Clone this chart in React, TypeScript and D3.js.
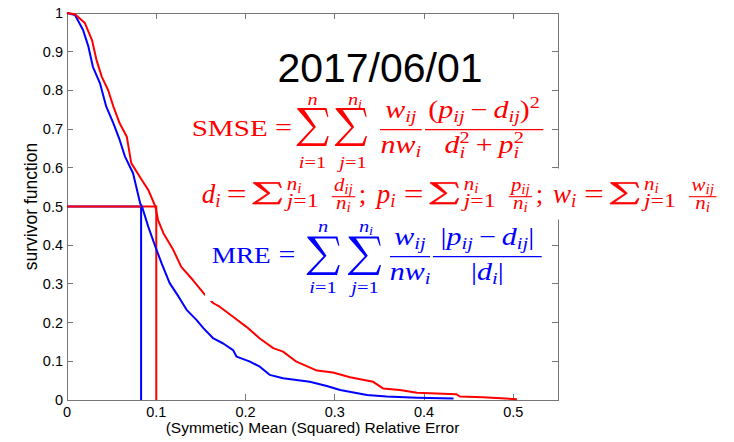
import React from 'react';
import * as d3 from 'd3';

// survivor functions
const mreX = [0, 0.009, 0.018, 0.024, 0.029, 0.037, 0.044, 0.052, 0.059, 0.065, 0.074, 0.082, 0.084, 0.091, 0.099, 0.106, 0.115, 0.125, 0.134, 0.145, 0.153, 0.164, 0.175, 0.186, 0.19, 0.205, 0.216, 0.227, 0.242, 0.272, 0.291, 0.306, 0.336, 0.358, 0.392, 0.433];
const mreY = [1, 0.995, 0.956, 0.913, 0.861, 0.818, 0.758, 0.715, 0.672, 0.629, 0.586, 0.508, 0.5, 0.448, 0.396, 0.353, 0.302, 0.267, 0.233, 0.207, 0.185, 0.159, 0.146, 0.129, 0.112, 0.099, 0.086, 0.065, 0.056, 0.047, 0.036, 0.026, 0.013, 0.009, 0.006, 0.004];
const smseX = [0, 0.009, 0.02, 0.028, 0.033, 0.039, 0.046, 0.052, 0.059, 0.067, 0.072, 0.084, 0.091, 0.099, 0.102, 0.108, 0.119, 0.128, 0.141, 0.153, 0.164, 0.171, 0.186, 0.201, 0.216, 0.231, 0.242, 0.257, 0.28, 0.298, 0.317, 0.343, 0.354, 0.373, 0.392, 0.414, 0.436, 0.44, 0.466, 0.504];
const smseY = [1, 0.997, 0.974, 0.93, 0.879, 0.835, 0.801, 0.758, 0.715, 0.68, 0.612, 0.568, 0.543, 0.5, 0.465, 0.431, 0.388, 0.344, 0.31, 0.276, 0.25, 0.241, 0.215, 0.189, 0.159, 0.134, 0.125, 0.099, 0.076, 0.071, 0.059, 0.047, 0.03, 0.026, 0.019, 0.017, 0.015, 0.009, 0.007, 0.002];

// medians (x where survivor = 0.5)
const medianMRE = 0.083;
const medianSMSE = 0.1;

const xTicks = [0, 0.1, 0.2, 0.3, 0.4, 0.5];
const yTicks = [0, 0.1, 0.2, 0.3, 0.4, 0.5, 0.6, 0.7, 0.8, 0.9, 1];

const title = '2017/06/01';
const xLabel = '(Symmetic) Mean (Squared) Relative Error';
const yLabel = 'survivor function';

const RED = '#ff0000';
const BLUE = '#0000ff';
const SERIF = "'Liberation Serif', 'DejaVu Serif', serif";
const SANS = "'Liberation Sans', Arial, sans-serif";
const SX = 1.2; // latex text in the figure is a bit wide

// Sigma glyph as polygon, in unit box
const sigmaPts: [number, number][] = [
  [0.02, 0], [0.93, 0], [0.99, 0.24], [0.96, 0.24], [0.88, 0.05], [0.24, 0.05],
  [0.6, 0.5], [0.14, 0.93], [0.86, 0.93], [0.96, 0.74], [1, 0.74], [0.92, 1],
  [0, 1], [0, 0.97], [0.51, 0.51], [0.02, 0.03],
];

function Sigma({ x, y, w, h, color, bold = 0 }: { x: number; y: number; w: number; h: number; color: string; bold?: number }) {
  const d = 'M' + sigmaPts.map(([u, v]) => `${x + u * w},${y + v * h}`).join('L') + 'Z';
  return <path d={d} fill={color} stroke={bold ? color : 'none'} strokeWidth={bold} strokeLinejoin="round" />;
}

function It({ children, ...rest }: any) {
  return <tspan fontStyle="italic" {...rest}>{children}</tspan>;
}

// text placed at x,y and stretched horizontally
function T({ x, y, size, anchor = 'start', sx = SX, children }: any) {
  return (
    <text transform={`translate(${x},${y}) scale(${sx},1)`} fontSize={size} textAnchor={anchor}>
      {children}
    </text>
  );
}

function Frac({ x1, x2, bar, num, den, color }: any) {
  const cx = (x1 + x2) / 2;
  return (
    <g>
      <line x1={x1} x2={x2} y1={bar} y2={bar} stroke={color} strokeWidth={1.3} />
      <T x={cx} y={bar - 12} size={25} anchor="middle">{num}</T>
      <T x={cx} y={bar + 23} size={25} anchor="middle">{den}</T>
    </g>
  );
}

function InlineGroup({ x0, v, e, last }: { x0: number; v: string; e: number; last?: boolean }) {
  const fw = v === 'w' ? 4 : 0;
  return (
    <g fill={RED}>
      <T x={x0} y={202.7} size={27} sx={1}><It>{v}</It><It fontSize={19} dy={4.5}>i</It></T>
      <T x={x0 + 25 + e} y={202.7} size={27} sx={1.3}>=</T>
      <Sigma x={x0 + 51 + e} y={182.5} w={29} h={21.5} color={RED} bold={0.7} />
      <T x={x0 + 85 + e} y={190} size={19} sx={1.1}><It>n</It><It fontSize={14} dy={3}>i</It></T>
      <T x={x0 + 85 + e} y={206.5} size={19} sx={1.25}><It>j</It><tspan>=1</tspan></T>
      <line x1={x0 + 130 + e} x2={x0 + 153.5 + e + fw} y1={196.7} y2={196.7} stroke={RED} strokeWidth={1.1} />
      <T x={x0 + 141.7 + e + fw / 2} y={190.5} size={19} sx={1.1} anchor="middle"><It>{v}</It><It fontSize={14} dy={3}>ij</It></T>
      <T x={x0 + 141.7 + e + fw / 2} y={208.5} size={19} sx={1.1} anchor="middle"><It>n</It><It fontSize={14} dy={3}>i</It></T>
      {!last && <T x={x0 + 157 + e + fw} y={202.7} size={27} sx={1}>;</T>}
    </g>
  );
}

export default function App() {
  const W = 734, H = 442;
  const x = d3.scaleLinear().domain([0, 0.55]).range([67, 558]);
  const y = d3.scaleLinear().domain([0, 1]).range([400, 13]);

  const mkPath = (xs: number[], ys: number[]) =>
    d3.line<number>().x((d) => x(d)).y((_, i) => y(ys[i]))(xs) as string;

  const [x0, x1] = x.range();
  const [y0, y1] = y.range();
  const tl = 6;

  const sumW = 32, sumH = 38;

  return (
    <svg width={W} height={H} style={{ position: 'absolute', left: 0, top: 0, background: '#fff' }} fontFamily={SERIF}>
      {/* box and ticks */}
      <g stroke="#777" strokeWidth={1} fill="none" shapeRendering="crispEdges">
        <rect x={x0} y={y1} width={x1 - x0} height={y0 - y1} />
        {xTicks.map((t) => (
          <g key={'xt' + t}>
            <line x1={x(t)} x2={x(t)} y1={y0} y2={y0 - tl} />
            <line x1={x(t)} x2={x(t)} y1={y1} y2={y1 + tl} />
          </g>
        ))}
        {yTicks.map((t) => (
          <g key={'yt' + t}>
            <line x1={x0} x2={x0 + tl} y1={y(t)} y2={y(t)} />
            <line x1={x1} x2={x1 - tl} y1={y(t)} y2={y(t)} />
          </g>
        ))}
      </g>
      <g fontFamily={SANS} fontSize={14.5} fill="#000">
        {xTicks.map((t) => (
          <text key={'xl' + t} x={x(t)} y={416.5} textAnchor="middle">{String(+t.toFixed(1))}</text>
        ))}
        {yTicks.map((t) => (
          <text key={'yl' + t} x={63} y={y(t) + 5} textAnchor="end">{String(+t.toFixed(1))}</text>
        ))}
      </g>
      <g fontFamily={SANS} fill="#000">
        <text x={(x0 + x1) / 2} y={433} textAnchor="middle" fontSize={15.5}>{xLabel}</text>
        <text transform={`translate(37,${(y0 + y1) / 2}) rotate(-90)`} textAnchor="middle" fontSize={17.5}>{yLabel}</text>
      </g>

      {/* median markers */}
      <g strokeWidth={2} fill="none">
        <path d={`M${x(0)},${y(0.5)}H${x(medianMRE)}V${y(0)}`} stroke={BLUE} />
        <path d={`M${x(0)},${y(0.5)}H${x(medianSMSE)}V${y(0)}`} stroke={RED} />
      </g>

      {/* curves */}
      <path d={mkPath(mreX, mreY)} fill="none" stroke={BLUE} strokeWidth={2} strokeLinejoin="round" />
      <path d={mkPath(smseX, smseY)} fill="none" stroke={RED} strokeWidth={2} strokeLinejoin="round" />

      {/* title */}
      <text x={380} y={82} textAnchor="middle" fontFamily={SANS} fontSize={41} fill="#000">{title}</text>

      {/* white backgrounds of the annotation texts */}
      <rect x={186} y={92} width={363} height={76} fill="#fff" />
      <rect x={196} y={168.5} width={521} height={51} fill="#fff" />
      <rect x={205} y={220} width={342} height={81} fill="#fff" />

      {/* SMSE formula */}
      <g fill={RED}>
        <text x={191.7} y={136.3} fontSize={24} textLength={76} lengthAdjust="spacingAndGlyphs">SMSE</text>
        <T x={275} y={136.3} size={25}>=</T>
        <Sigma x={296.7} y={108} w={sumW} h={sumH} color={RED} />
        <T x={312.7} y={104.5} size={17} anchor="middle"><It>n</It></T>
        <T x={312.4} y={168} size={17} anchor="middle"><It>i</It><tspan>=1</tspan></T>
        <Sigma x={335} y={108} w={sumW} h={sumH} color={RED} />
        <T x={355} y={104.5} size={17} anchor="middle"><It>n</It><It fontSize={12} dy={3}>i</It></T>
        <T x={353} y={168} size={17} anchor="middle"><It>j</It><tspan>=1</tspan></T>
        <Frac x1={380} x2={421.7} bar={129.7} color={RED}
          num={<><It>w</It><It fontSize={17} dy={4}>ij</It></>}
          den={<><It>nw</It><It fontSize={17} dy={4}>i</It></>} />
        <Frac x1={425} x2={543.3} bar={129.7} color={RED}
          num={<><tspan>(</tspan><It>p</It><It fontSize={17} dy={4}>ij</It><tspan dx={5} dy={-4}>−</tspan><It dx={5}>d</It><It fontSize={17} dy={4}>ij</It><tspan dy={-4}>)</tspan><tspan fontSize={17} dy={-10}>2</tspan></>}
          den={<><It>d</It><It fontSize={17} dy={5}>i</It><tspan fontSize={17} dx={-4.7} dy={-15}>2</tspan><tspan dx={5} dy={10}>+</tspan><It dx={5}>p</It><It fontSize={17} dy={5}>i</It><tspan fontSize={17} dx={-4.7} dy={-15}>2</tspan></>} />
      </g>

      {/* inline definitions */}
      <InlineGroup x0={201.7} v="d" e={0} />
      <InlineGroup x0={376.7} v="p" e={2} />
      <InlineGroup x0={553} v="w" e={6} last />

      {/* MRE formula */}
      <g fill={BLUE}>
        <text x={211.7} y={263.3} fontSize={24} textLength={59} lengthAdjust="spacingAndGlyphs">MRE</text>
        <T x={278.5} y={263.3} size={25}>=</T>
        <Sigma x={306.7} y={236.5} w={sumW + 1} h={sumH + 0.5} color={BLUE} />
        <T x={323.2} y={231.5} size={17} anchor="middle"><It>n</It></T>
        <T x={323} y={293} size={17} anchor="middle"><It>i</It><tspan>=1</tspan></T>
        <Sigma x={348} y={236.5} w={sumW + 1} h={sumH + 0.5} color={BLUE} />
        <T x={366} y={231.5} size={17} anchor="middle"><It>n</It><It fontSize={12} dy={3}>i</It></T>
        <T x={365} y={293} size={17} anchor="middle"><It>j</It><tspan>=1</tspan></T>
        <Frac x1={390} x2={430} bar={256.7} color={BLUE}
          num={<><It>w</It><It fontSize={17} dy={4}>ij</It></>}
          den={<><It>nw</It><It fontSize={17} dy={4}>i</It></>} />
        <Frac x1={433} x2={541.7} bar={256.7} color={BLUE}
          num={<><tspan>|</tspan><It>p</It><It fontSize={17} dy={4}>ij</It><tspan dx={5} dy={-4}>−</tspan><It dx={5}>d</It><It fontSize={17} dy={4}>ij</It><tspan dy={-4}>|</tspan></>}
          den={<><tspan>|</tspan><It>d</It><It fontSize={17} dy={4}>i</It><tspan dy={-4}>|</tspan></>} />
      </g>
    </svg>
  );
}
